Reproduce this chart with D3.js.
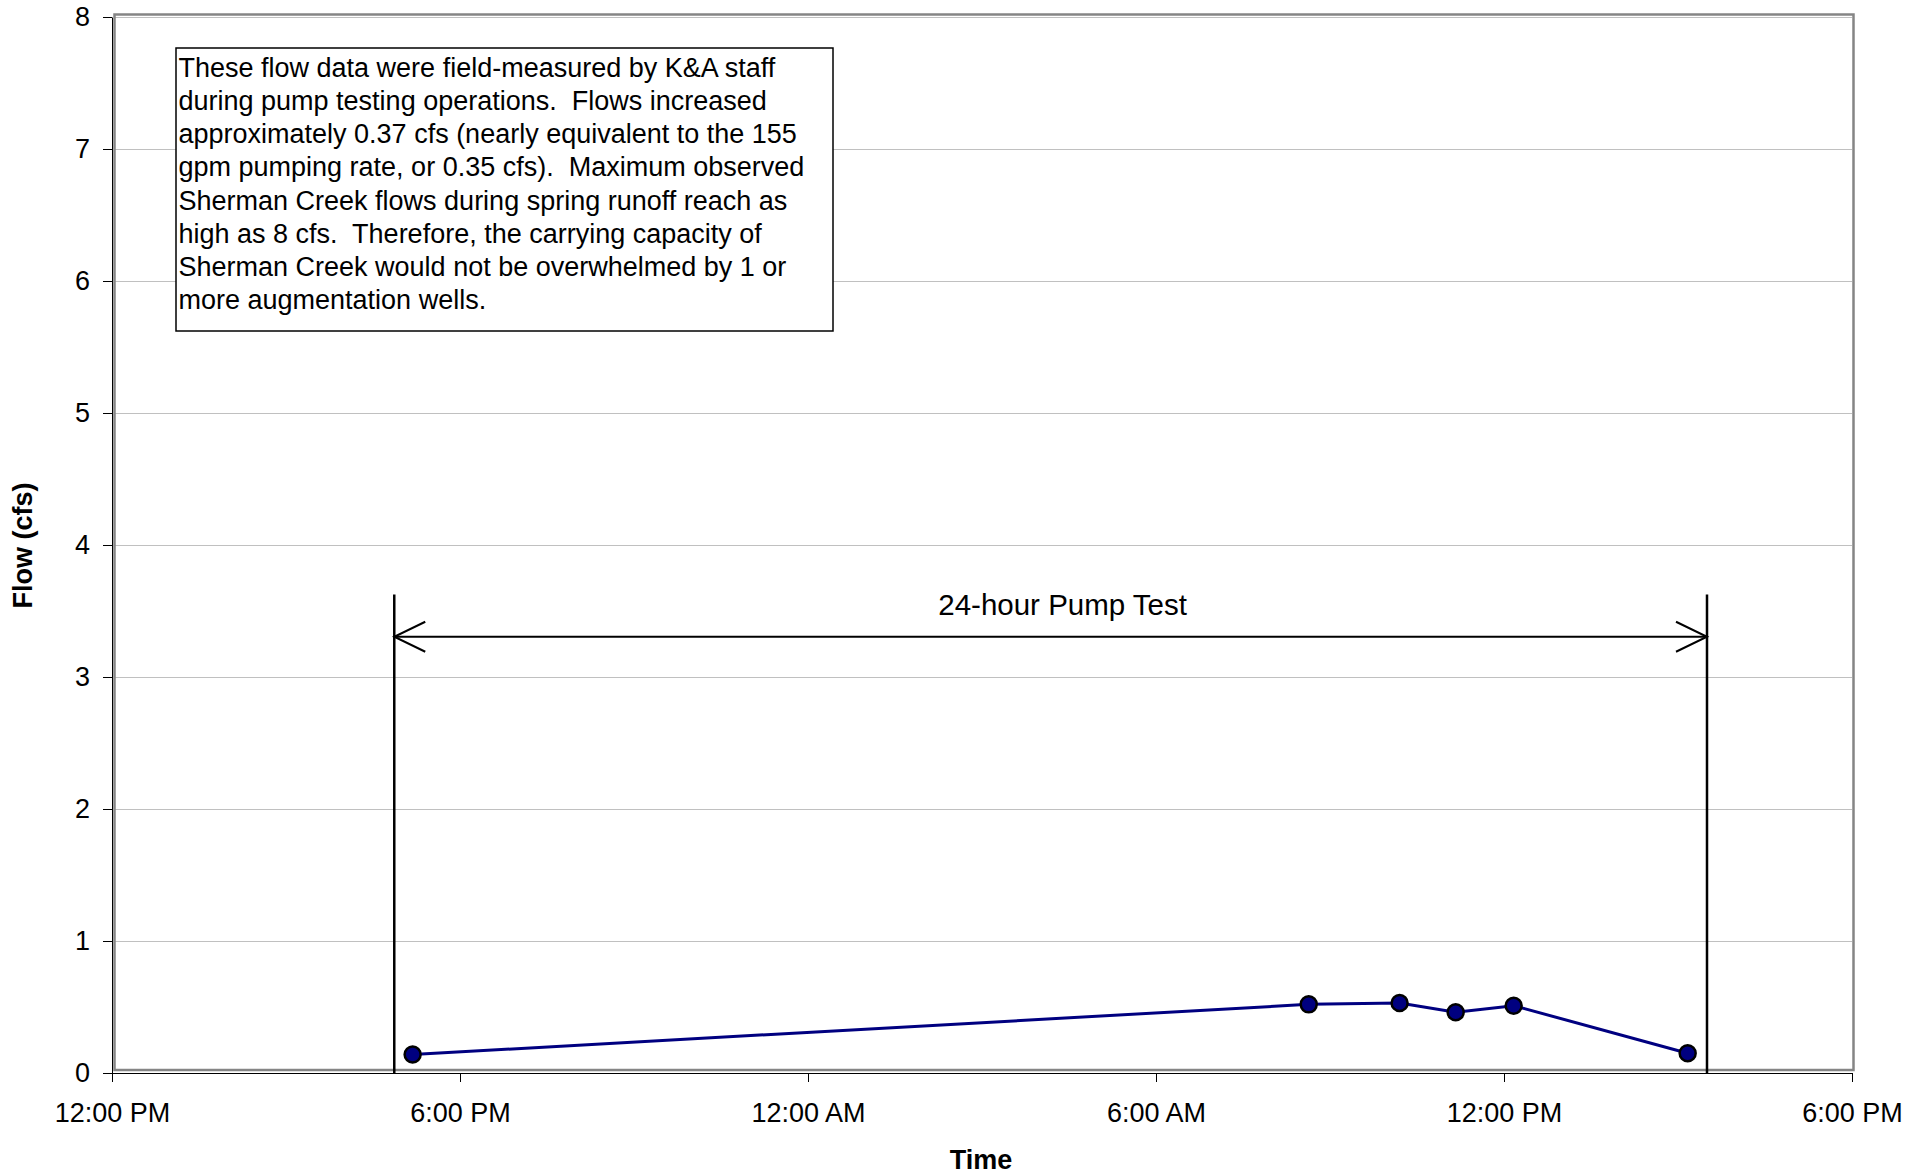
<!DOCTYPE html>
<html><head><meta charset="utf-8">
<script src="https://cdn.jsdelivr.net/npm/d3@7"></script>
<style>
body{margin:0;background:#fff}
svg{display:block}
text{font-family:"Liberation Sans",Arial,Helvetica,sans-serif;fill:#000;white-space:pre}
</style>
</head><body>
<svg id="chart" width="1929" height="1174"></svg>
<script>
// ---- data ----
const sampleTimes = ["2000-01-01T17:11","2000-01-02T08:38","2000-01-02T10:12","2000-01-02T11:10","2000-01-02T12:10","2000-01-02T15:10"];
const flowValues  = [0.14, 0.52, 0.53, 0.46, 0.51, 0.15];
const pumpTestWindow = ["2000-01-01T16:52","2000-01-02T15:30"];
const pumpLabel = "24-hour Pump Test";
const xTickTimes  = ["2000-01-01T12:00","2000-01-01T18:00","2000-01-02T00:00","2000-01-02T06:00","2000-01-02T12:00","2000-01-02T18:00"];
const xTickLabels = ["12:00 PM","6:00 PM","12:00 AM","6:00 AM","12:00 PM","6:00 PM"];
const yTicks = [0,1,2,3,4,5,6,7,8];
const xTitle = "Time";
const yTitle = "Flow (cfs)";
const noteLines = [
  "These flow data were field-measured by K&A staff",
  "during pump testing operations.  Flows increased",
  "approximately 0.37 cfs (nearly equivalent to the 155",
  "gpm pumping rate, or 0.35 cfs).  Maximum observed",
  "Sherman Creek flows during spring runoff reach as",
  "high as 8 cfs.  Therefore, the carrying capacity of",
  "Sherman Creek would not be overwhelmed by 1 or",
  "more augmentation wells."
];

// ---- chart ----
const parse = d3.timeParse("%Y-%m-%dT%H:%M");
const svg = d3.select("#chart");
const x = d3.scaleTime().domain([parse(xTickTimes[0]), parse(xTickTimes[xTickTimes.length-1])]).range([112, 1852]);
const y = d3.scaleLinear().domain([0, 8]).range([1073, 17]);

// gridlines
svg.append("g").selectAll("line").data(yTicks.filter(d => d > 0)).join("line")
  .attr("x1", 114).attr("x2", 1852)
  .attr("y1", d => Math.round(y(d)) + 0.5).attr("y2", d => Math.round(y(d)) + 0.5)
  .attr("stroke", "#c0c0c0").attr("stroke-width", 1);

// plot frame
svg.append("rect").attr("x", 114.5).attr("y", 14.5).attr("width", 1739).attr("height", 1055.5)
  .attr("fill", "none").attr("stroke", "#858585").attr("stroke-width", 2.5);

// pump test annotation
const t0 = parse(pumpTestWindow[0]), t1 = parse(pumpTestWindow[1]);
const ann = svg.append("g").attr("stroke", "#000").attr("fill", "none");
[t0, t1].forEach(t => {
  ann.append("line").attr("x1", x(t)).attr("x2", x(t)).attr("y1", y(3.625)).attr("y2", y(0))
    .attr("stroke-width", 2.5);
});
const ay = y(3.305);
ann.append("line").attr("x1", x(t0)).attr("x2", x(t1)).attr("y1", ay).attr("y2", ay).attr("stroke-width", 2);
ann.append("path").attr("stroke-width", 2)
  .attr("d", `M${x(t0)+31},${ay-15}L${x(t0)},${ay}L${x(t0)+31},${ay+15}`);
ann.append("path").attr("stroke-width", 2)
  .attr("d", `M${x(t1)-31},${ay-15}L${x(t1)},${ay}L${x(t1)-31},${ay+15}`);
svg.append("text").attr("x", (x(t0) + x(t1)) / 2 + 12).attr("y", y(3.47))
  .attr("text-anchor", "middle").style("font-size", "29.5px").text(pumpLabel);

// data series
const pts = sampleTimes.map((t, i) => ({t: parse(t), v: flowValues[i]}));
svg.append("path").datum(pts)
  .attr("d", d3.line().x(d => x(d.t)).y(d => y(d.v)))
  .attr("fill", "none").attr("stroke", "#000080").attr("stroke-width", 3);
svg.append("g").selectAll("circle").data(pts).join("circle")
  .attr("cx", d => x(d.t)).attr("cy", d => y(d.v)).attr("r", 8)
  .attr("fill", "#000080").attr("stroke", "#000").attr("stroke-width", 2.5);

// note box
svg.append("rect").attr("x", 176).attr("y", 48).attr("width", 657).attr("height", 283)
  .attr("fill", "#fff").attr("stroke", "#000").attr("stroke-width", 1.5);
svg.append("text").style("font-size", "27px").attr("xml:space", "preserve")
  .selectAll("tspan").data(noteLines).join("tspan")
  .attr("x", 178.5).attr("y", (d, i) => 77 + i * 33.15).text(d => d);

// axes
const yAxis = svg.append("g").attr("transform", "translate(112,0)")
  .call(d3.axisLeft(y).tickValues(yTicks).tickSize(9).tickSizeOuter(0).tickPadding(13).tickFormat(d3.format("d")));
const xAxis = svg.append("g").attr("transform", "translate(0,1073)")
  .call(d3.axisBottom(x).tickValues(xTickTimes.map(parse)).tickSize(9).tickSizeOuter(0).tickPadding(20.5)
    .tickFormat((d, i) => xTickLabels[i]));
[yAxis, xAxis].forEach(g => {
  g.selectAll("path,line").attr("stroke", "#000").attr("stroke-width", 1);
  g.selectAll("text").style("font-size", "27px").attr("fill", "#000")
    .style("font-family", "'Liberation Sans',Arial,sans-serif");
});

// titles
svg.append("text").attr("x", 981).attr("y", 1168.5).attr("text-anchor", "middle")
  .style("font-size", "27px").style("font-weight", "bold").text(xTitle);
svg.append("text").attr("transform", "translate(32,545.5) rotate(-90)").attr("text-anchor", "middle")
  .style("font-size", "27px").style("font-weight", "bold").text(yTitle);
</script>
</body></html>
